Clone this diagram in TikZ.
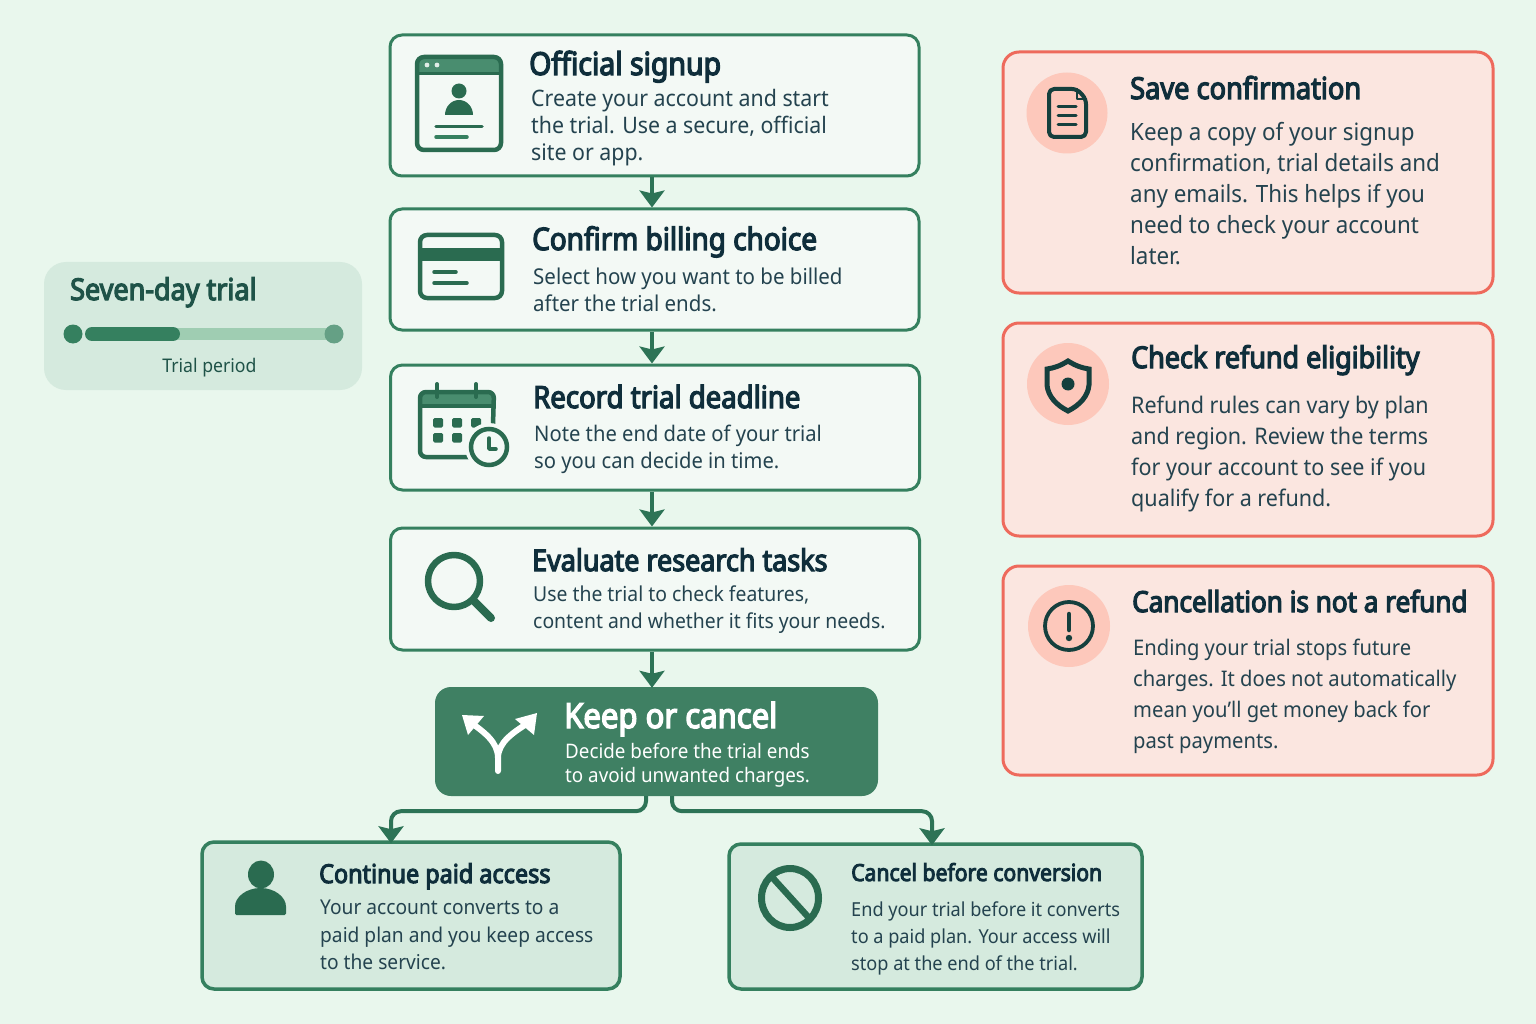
\documentclass[tikz,border=0pt]{standalone}
\usepackage{fontspec}
\setmainfont{Noto Sans}
\newfontfamily\ttlfont[FakeStretch=0.9,FakeBold=4]{Noto Sans}
\newfontfamily\bodyfont[FakeStretch=0.94]{Noto Sans}
\usetikzlibrary{arrows.meta,calc}
\definecolor{bgc}{HTML}{E9F7ED}
\definecolor{grn}{HTML}{35805F}
\definecolor{dgrn}{HTML}{2A6B50}
\definecolor{arrowc}{HTML}{2D7356}
\definecolor{cardf}{HTML}{F3F9F5}
\definecolor{outf}{HTML}{D5EADE}
\definecolor{keepf}{HTML}{3F8063}
\definecolor{barl}{HTML}{9FCDB2}
\definecolor{redl}{HTML}{EE6A5C}
\definecolor{redf}{HTML}{FBE6E0}
\definecolor{redc}{HTML}{FDC8BB}
\definecolor{ink}{HTML}{0F2E3B}
\definecolor{bodyc}{HTML}{24434F}
\definecolor{icn}{HTML}{153F3D}
\tikzset{
  card/.style={draw=grn,line width=3pt,fill=cardf,rounded corners=12pt,inner sep=0pt},
  outcome/.style={draw=grn,line width=3.5pt,fill=outf,rounded corners=12pt,inner sep=0pt},
  alert/.style={draw=redl,line width=3pt,fill=redf,rounded corners=16pt,inner sep=0pt},
  decide/.style={fill=keepf,rounded corners=16pt,inner sep=0pt},
  trialbox/.style={fill=outf,rounded corners=22pt,inner sep=0pt},
  ttl/.style={anchor=base west,inner sep=0pt,text=ink,font=\ttlfont\fontsize{#1pt}{#1pt}\selectfont},
  ttl/.default=29,
  para/.style 2 args={anchor=north west,align=left,inner sep=0pt,text=bodyc,font=\bodyfont\fontsize{#1pt}{#2pt}\selectfont},
  flow/.style={draw=arrowc,line width=4.5pt,-{Stealth[length=17pt,width=25pt,inset=3pt]}},
  branch/.style={draw=arrowc,line width=4pt,rounded corners=10pt,-{Stealth[length=17pt,width=25pt,inset=3pt]}},
  gi/.style={draw=dgrn,line width=4.5pt,line cap=round,line join=round},
  ri/.style={draw=icn,line width=4pt,line cap=round,line join=round},
}
\begin{document}
\begin{tikzpicture}[x=1pt,y=-1pt]
\useasboundingbox (0,0) rectangle (1536,1024);
\fill[bgc] (0,0) rectangle (1536,1024);

% boxes
\node[card,minimum width=529pt,minimum height=141pt] (b1) at (654.5,105.5) {};
\node[card,minimum width=529pt,minimum height=121pt] (b2) at (654.5,269.5) {};
\node[card,minimum width=529pt,minimum height=125pt] (b3) at (655,427.5) {};
\node[card,minimum width=529pt,minimum height=122pt] (b4) at (655,589) {};
\node[decide,minimum width=443pt,minimum height=109pt] (keep) at (656.5,741.5) {};
\node[outcome,minimum width=418pt,minimum height=147pt] (c1) at (411,915.5) {};
\node[outcome,minimum width=413pt,minimum height=145pt] (c2) at (935.5,916.5) {};
\node[trialbox,minimum width=318pt,minimum height=128pt] (trial) at (203,326) {};
\node[alert,minimum width=490pt,minimum height=241pt] (r1) at (1248,172.5) {};
\node[alert,minimum width=490pt,minimum height=213pt] (r2) at (1248,429.5) {};
\node[alert,minimum width=490pt,minimum height=209pt] (r3) at (1248,670.5) {};

% connectors
\coordinate (ax) at (652,0);
\coordinate (lx) at (391,0);
\coordinate (rx) at (932,0);
\coordinate (lo) at (646,0);
\coordinate (ro) at (672,0);
\draw[flow] (b1.south -| ax) -- (b2.north -| ax);
\draw[flow] (b2.south -| ax) -- (b3.north -| ax);
\draw[flow] (b3.south -| ax) -- (b4.north -| ax);
\draw[flow] (b4.south -| ax) -- ([yshift=-1pt]keep.north -| ax);
\draw[branch] (keep.south -| lo) -- ++(0,15) -| ([yshift=-3pt]c1.north -| lx);
\draw[branch] (keep.south -| ro) -- ++(0,15) -| ([yshift=-3pt]c2.north -| rx);

% titles
\node[ttl=31.6] (t1) at (529,75) {Official signup};
\node[ttl=31] (t2) at (532,250) {Confirm billing choice};
\node[ttl=30.6] (t3) at (533,408) {Record trial deadline};
\node[ttl=29.9] (t4) at (532,571) {Evaluate research tasks};
\node[ttl=34.5,text=white] (t5) at (564,728) {Keep or cancel};
\node[ttl=26] (t6) at (319,883) {Continue paid access};
\node[ttl=23.5] (t7) at (851,881) {Cancel before conversion};
\node[ttl=30,text=dgrn!60!ink] (t8) at (70,300) {Seven-day trial};
\node[ttl=30.2] (t9) at (1130,99) {Save confirmation};
\node[ttl=29.9] (t10) at (1131,368) {Check refund eligibility};
\node[ttl=29] (t11) at (1132,612) {Cancellation is not a refund};

% body
\node[para={22.7}{27}] (d1) at (531,89.5) {Create your account and start\\the trial. Use a secure, official\\site or app.};
\node[para={21.8}{27}] (d2) at (533,267.5) {Select how you want to be billed\\after the trial ends.};
\node[para={21.5}{27}] (d3) at (534,424.5) {Note the end date of your trial\\so you can decide in time.};
\node[para={20.6}{27}] (d4) at (533,586) {Use the trial to check features,\\content and whether it fits your needs.};
\node[para={20}{24},text=white] (d5) at (565,742.5) {Decide before the trial ends\\to avoid unwanted charges.};
\node[para={20.4}{27.5}] (d6) at (320,900) {Your account converts to a\\paid plan and you keep access\\to the service.};
\node[para={19.3}{27}] (d7) at (851,902) {End your trial before it converts\\to a paid plan. Your access will\\stop at the end of the trial.};
\node[para={18.8}{18},anchor=base,text=dgrn!60!ink] (d8) at (209.5,372) {Trial period};
\node[para={23.8}{31}] (d9) at (1130,122.5) {Keep a copy of your signup\\confirmation, trial details and\\any emails. This helps if you\\need to check your account\\later.};
\node[para={22.9}{31}] (d10) at (1131,395.5) {Refund rules can vary by plan\\and region. Review the terms\\for your account to see if you\\qualify for a refund.};
\node[para={21.5}{31}] (d11) at (1133,639) {Ending your trial stops future\\charges. It does not automatically\\mean you’ll get money back for\\past payments.};

% browser icon
\fill[grn!90!white,rounded corners=6pt] (417,57) rectangle (501,74);
\draw[gi,rounded corners=7pt] (417,57) rectangle (501,150);
\draw[dgrn,line width=3pt] (417,74) -- (501,74);
\fill[white!85!grn] (427,65) circle (2.4) (437,65) circle (2.4);
\fill[dgrn] (459,91) circle (7.5);
\fill[dgrn] (445,115) arc[start angle=180,end angle=360,x radius=14,y radius=15] -- cycle;
\draw[dgrn,line width=3.5pt,line cap=round] (436,126.5) -- (482,126.5);
\draw[grn,line width=3.5pt,line cap=round] (436,137) -- (467,137);

% card icon
\draw[gi,rounded corners=7pt] (420,235) rectangle (502,298);
\fill[dgrn] (420,248) rectangle (502,261);
\draw[gi,line width=3.5pt] (434,272) -- (456,272) (434,283) -- (467,283);

% calendar icon
\fill[grn!90!white] (421,392) rectangle (494,406);
\draw[gi,rounded corners=6pt] (420,392) -- (420,457) -- (492,457) -- (494,392) -- cycle;
\draw[dgrn,line width=3.5pt] (420,406) -- (494,406);
\draw[gi,line width=4pt] (437,384) -- (437,397) (476,384) -- (476,397);
\foreach \cx/\cy in {433/418,452/418,471/418,433/433,452/433}
  \fill[dgrn,rounded corners=1.5pt] (\cx,\cy) rectangle ++(10,9.5);
\fill[cardf] (489,447) circle (24);
\draw[dgrn,line width=4.5pt] (489,447) circle (18);
\draw[gi,line width=3.5pt] (489,438) -- (489,449) -- (496,449);

% magnifier
\draw[gi,line width=6.5pt] (454,581) circle (26);
\draw[gi,line width=8pt] (475,602) -- (491,618);

% fork icon
\draw[white,line width=6pt,line cap=round] (498,771) -- (498,758) .. controls (498,742) and (484,732) .. (470,722);
\draw[white,line width=6pt,line cap=round] (498,758) .. controls (498,742) and (514,732) .. (528,723);
\fill[white] (462,715) -- (484,716) -- (468,735) -- cycle;
\fill[white] (537,713) -- (534,735) -- (515,719) -- cycle;

% person, forbidden sign
\fill[dgrn] (261,874.5) ellipse (13 and 14);
\fill[dgrn,rounded corners=1.5pt] (235,915) -- (235,908) arc[start angle=180,end angle=360,x radius=25.5,y radius=20] -- (286,915) -- cycle;
\draw[dgrn,line width=7pt] (790,898) ellipse (28.5 and 29.5);
\draw[dgrn,line width=6.5pt] (771,876) -- (810,919);

% trial bar
\draw[barl,line width=12pt,line cap=round] (100,334) -- (326,334);
\draw[grn,line width=14pt,line cap=round] (92,334) -- (173,334);
\fill[grn] (73,334) circle (9.5);
\fill[grn!70!outf] (334,334) circle (9.5);

% alert icons
\fill[redc] (1067,113) circle (40.5);
\draw[ri,rounded corners=5pt] (1077,89) -- (1049,89) -- (1049,137) -- (1086,137) -- (1086,99) -- cycle;
\draw[ri,line width=2.5pt] (1077,89) -- (1077,99) -- (1086,99);
\draw[ri,line width=3pt] (1058,107) -- (1076,107) (1058,116) -- (1076,116) (1058,125) -- (1076,125);
\fill[redc] (1068,384) circle (41);
\draw[ri,line width=5pt,line join=miter] (1068,361) .. controls (1060,366) and (1054,368) .. (1047,369) -- (1047,385) .. controls (1048,396) and (1056,405) .. (1068,411) .. controls (1080,405) and (1088,396) .. (1089,385) -- (1089,369) .. controls (1082,368) and (1076,366) .. (1068,361) -- cycle;
\fill[icn] (1068,384) circle (6.5);
\fill[redc] (1069,626) circle (41);
\draw[ri,line width=3.8pt] (1069,626) circle (24);
\draw[ri,line width=4.5pt] (1069,614) -- (1069,630);
\fill[icn] (1069,638) circle (3.2);
\end{tikzpicture}
\end{document}
